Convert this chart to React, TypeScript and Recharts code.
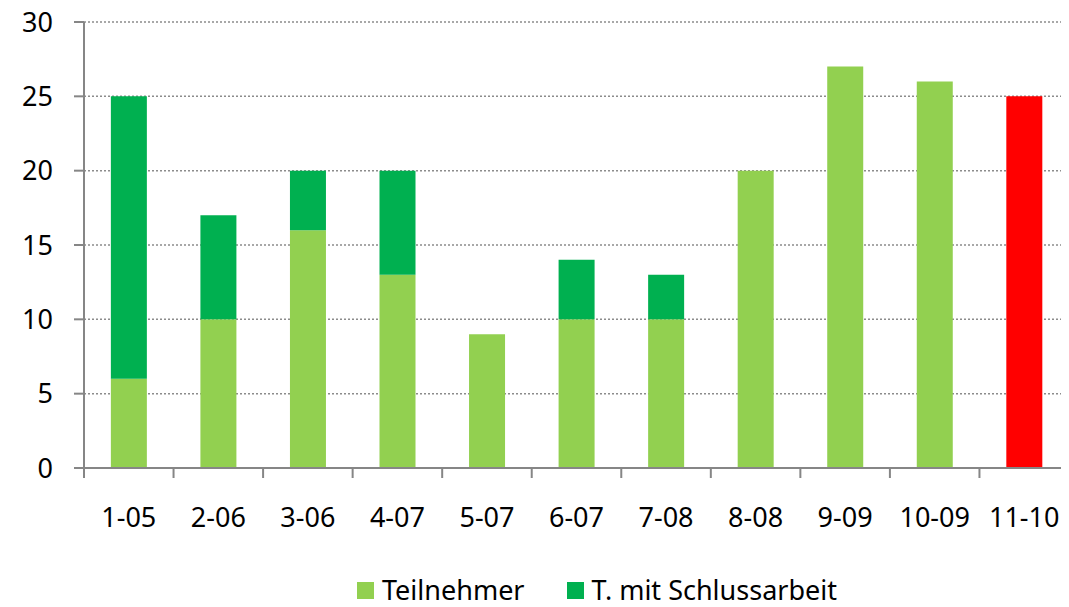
import React from 'react';
import { BarChart, Bar, XAxis, YAxis, CartesianGrid, Legend, Cell } from 'recharts';

const categories = ['1-05', '2-06', '3-06', '4-07', '5-07', '6-07', '7-08', '8-08', '9-09', '10-09', '11-10'];
const teilnehmer = [6, 10, 16, 13, 9, 10, 10, 20, 27, 26, 25];
const schlussarbeit = [19, 7, 4, 7, 0, 4, 3, 0, 0, 0, 0];
const yTicks = [0, 5, 10, 15, 20, 25, 30];
const highlightCategory = '11-10';

const LIGHT = '#92D050';
const DARK = '#00B050';
const RED = '#FF0000';
const AXIS = '#868686';
const FONT = '"Noto Sans", sans-serif';

const data = categories.map((c, i) => ({ cat: c, t: teilnehmer[i], s: schlussarbeit[i] }));

const X_TICK_SIZE = 10;
const X_TICK_MARGIN = 30;

const XTick = (props: any) => {
  const { x, y, payload, index, visibleTicksCount } = props;
  const half = payload && payload.offset ? payload.offset : 0;
  const axisY = y - X_TICK_SIZE - X_TICK_MARGIN;
  return (
    <g>
      <line x1={x - half} x2={x - half} y1={axisY} y2={axisY + X_TICK_SIZE} stroke={AXIS} strokeWidth={2} />
      {index === visibleTicksCount - 1 && (
        <line x1={x + half} x2={x + half} y1={axisY} y2={axisY + X_TICK_SIZE} stroke={AXIS} strokeWidth={2} />
      )}
      <text x={x} y={y} dy="0.71em" textAnchor="middle" fill="#000" fontSize={27} fontFamily={FONT}>
        {payload.value}
      </text>
    </g>
  );
};

const LegendContent = () => (
  <div
    style={{
      display: 'flex',
      justifyContent: 'center',
      alignItems: 'center',
      height: 36,
      lineHeight: '36px',
      paddingLeft: 117,
      fontFamily: FONT,
      fontSize: 27,
      color: '#000',
    }}
  >
    <div style={{ display: 'flex', alignItems: 'center', marginRight: 42 }}>
      <span style={{ width: 17, height: 17, background: LIGHT, display: 'inline-block', marginRight: 8 }} />
      <span>Teilnehmer</span>
    </div>
    <div style={{ display: 'flex', alignItems: 'center' }}>
      <span style={{ width: 17, height: 17, background: DARK, display: 'inline-block', marginRight: 8 }} />
      <span>T. mit Schlussarbeit</span>
    </div>
  </div>
);

export default function App() {
  return (
    <BarChart
      width={1061}
      height={599}
      data={data}
      margin={{ top: 14, right: 0, bottom: -1, left: 0 }}
      barCategoryGap="30%"
      style={{ overflow: 'visible' }}
    >
      <CartesianGrid vertical={false} stroke="#8c8c8c" strokeDasharray="2 2" strokeWidth={1.5} />
      <XAxis
        dataKey="cat"
        height={104}
        tickLine={false}
        tickSize={X_TICK_SIZE}
        tickMargin={X_TICK_MARGIN}
        axisLine={{ stroke: AXIS, strokeWidth: 2 }}
        tick={<XTick />}
        interval={0}
      />
      <YAxis
        width={76}
        domain={[0, 30]}
        ticks={yTicks}
        tickSize={10}
        tickMargin={21}
        tickLine={{ stroke: AXIS, strokeWidth: 2 }}
        axisLine={{ stroke: AXIS, strokeWidth: 2 }}
        tick={{ fill: '#000', fontSize: 27, fontFamily: FONT }}
        interval={0}
      />
      <Legend verticalAlign="bottom" content={<LegendContent />} />
      <Bar dataKey="t" stackId="a" fill={LIGHT} isAnimationActive={false} name="Teilnehmer">
        {data.map((d) => (
          <Cell key={d.cat} fill={d.cat === highlightCategory ? RED : LIGHT} />
        ))}
      </Bar>
      <Bar dataKey="s" stackId="a" fill={DARK} isAnimationActive={false} name="T. mit Schlussarbeit" />
    </BarChart>
  );
}
